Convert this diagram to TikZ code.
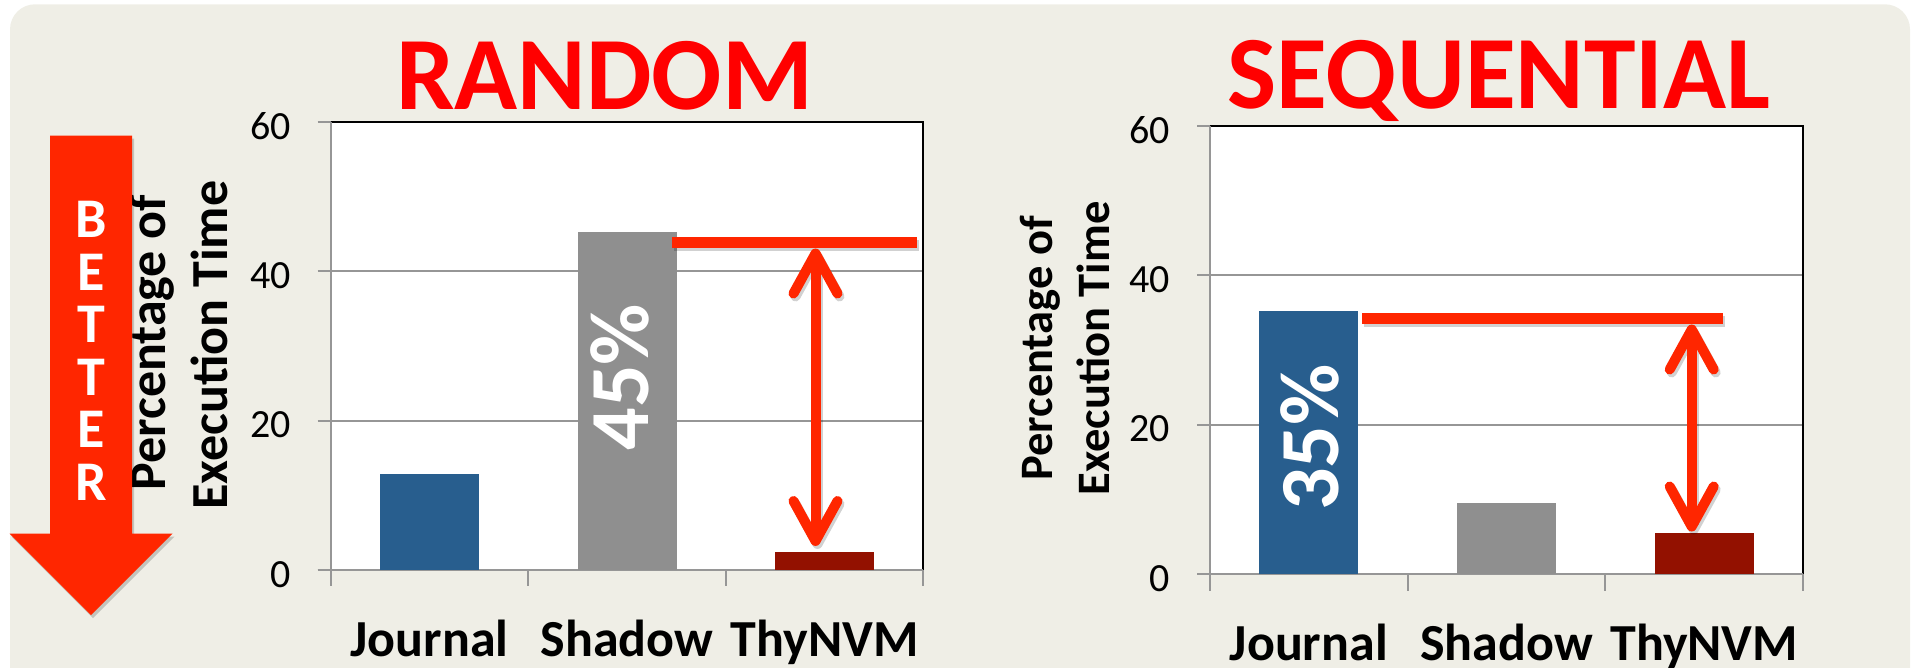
\documentclass[tikz,border=0pt]{standalone}
\usepackage{fontspec}
\setmainfont{Carlito}
\usetikzlibrary{arrows.meta}
\definecolor{panel}{RGB}{239,238,230}
\definecolor{hot}{RGB}{255,38,0}
\definecolor{titlered}{RGB}{255,0,0}
\definecolor{jblue}{RGB}{40,94,142}
\definecolor{sgray}{RGB}{143,143,143}
\definecolor{tred}{RGB}{147,17,0}
\definecolor{axisgray}{RGB}{150,150,150}
\tikzset{
  gridline/.style={draw=axisgray, line width=2pt},
  axisline/.style={draw=axisgray, line width=2pt},
  frameline/.style={draw=black, line width=2pt},
  barbox/.style={rectangle, inner sep=0pt, outer sep=0pt, minimum width=98.8pt, anchor=south},
  ticklab/.style={font=\fontsize{40}{48}\selectfont, anchor=base east, inner sep=0pt},
  catlab/.style={font=\fontsize{52}{62}\selectfont\bfseries, anchor=base, inner sep=0pt},
  ylabA/.style={font=\fontsize{52}{62}\selectfont\bfseries, anchor=base, rotate=90, inner sep=0pt},
  ylabB/.style={font=\fontsize{46.5}{56}\selectfont\bfseries, anchor=base, rotate=90, inner sep=0pt},
  charttitle/.style={font=\fontsize{104}{120}\selectfont\bfseries, text=titlered, anchor=base, inner sep=0pt},
  pctlab/.style={font=\fontsize{84}{96}\selectfont\bfseries, text=white, rotate=90, inner sep=0pt},
  betterlab/.style={font=\fontsize{56}{60}\selectfont\bfseries, text=white, anchor=base, inner sep=0pt},
  capline/.style={draw=hot, line width=11pt},
  gaparrow/.style={draw=hot, line width=10pt, >={Straight Barb[length=40pt,width=44pt,round]}, <->},
  softshadow/.style={draw=black, opacity=.18, transform canvas={xshift=2pt,yshift=-3pt}},
}
\begin{document}
\begin{tikzpicture}[x=1pt,y=-1pt]
\useasboundingbox (0,0) rectangle (1915,668);
% panel
\fill[panel, rounded corners=25pt] (10,4.3) rectangle (1910,720);

% ---------- left chart: RANDOM ----------
\node[charttitle] (tR) at (604.5,109.5) {RANDOM};
\begin{scope}[shift={(330.7,570)}]
  \fill[white] (0,0) rectangle (592.7,-448.2);
  \foreach \v in {20,40} \draw[gridline] (0,-\v*7.47) -- (592.7,-\v*7.47);
  \foreach \v in {0,20,40,60} \draw[axisline] (-13,-\v*7.47) -- (0,-\v*7.47);
  \foreach \c in {197.6,395.1,592.7} \draw[axisline] (\c,0) -- (\c,16);
  \draw[frameline] (0,-448.2) -- (592.7,-448.2) -- (592.7,0);
  \draw[axisline] (0,-448.2) -- (0,16);
  \draw[axisline] (-13,0) -- (592.7,0);
  \node[barbox, fill=jblue, minimum height=95.7pt] (Lj) at (98.8,0) {};
  \node[barbox, fill=sgray, minimum height=337.9pt] (Ls) at (296.4,0) {};
  \node[barbox, fill=tred, minimum height=18pt] (Lt) at (494.0,0) {};
  \foreach \v in {0,20,40,60} \node[ticklab] (Ly\v) at (-39.7,-\v*7.47+17.3) {\v};
  \node[catlab] (Lcj) at (98.8,86.7) {Journal};
  \node[catlab] (Lcs) at (296.4,86.7) {Shadow};
  \node[catlab] (Lct) at (494.0,86.7) {ThyNVM};
\end{scope}
\node[pctlab] (Lp) at (620,377) {45\%};
\node[ylabA] (LyA) at (165,342.5) {Percentage of};
\node[ylabA] (LyB) at (227,345) {Execution Time};
% gap marker
\coordinate (Lc1) at (672,243);
\coordinate (Lc2) at (917,243);
\coordinate (La) at (815.5,248.5);
\coordinate (Lb) at (815.5,546);
\draw[capline, softshadow] (Lc1) -- (Lc2);
\draw[capline] (Lc1) -- (Lc2);
\draw[gaparrow, softshadow] (La) -- (Lb);
\draw[gaparrow] (La) -- (Lb);

% ---------- right chart: SEQUENTIAL ----------
\node[charttitle] (tS) at (1499,109) {SEQUENTIAL};
\begin{scope}[shift={(1210,574)}]
  \fill[white] (0,0) rectangle (593,-448.2);
  \foreach \v in {20,40} \draw[gridline] (0,-\v*7.47) -- (593,-\v*7.47);
  \foreach \v in {0,20,40,60} \draw[axisline] (-13,-\v*7.47) -- (0,-\v*7.47);
  \foreach \c in {197.7,395.3,593} \draw[axisline] (\c,0) -- (\c,16.5);
  \draw[frameline] (0,-448.2) -- (593,-448.2) -- (593,0);
  \draw[axisline] (0,-448.2) -- (0,16.5);
  \draw[axisline] (-13,0) -- (593,0);
  \node[barbox, fill=jblue, minimum height=262.8pt] (Rj) at (98.8,0) {};
  \node[barbox, fill=sgray, minimum height=71.3pt] (Rs) at (296.5,0) {};
  \node[barbox, fill=tred, minimum height=41pt] (Rt) at (494.2,0) {};
  \foreach \v in {0,20,40,60} \node[ticklab] (Ry\v) at (-40,-\v*7.47+17.3) {\v};
  \node[catlab] (Rcj) at (98.8,86) {Journal};
  \node[catlab] (Rcs) at (296.5,86) {Shadow};
  \node[catlab] (Rct) at (494.2,86) {ThyNVM};
\end{scope}
\node[pctlab] (Rp) at (1310,437.7) {35\%};
\node[ylabB] (RyA) at (1052,348.4) {Percentage of};
\node[ylabB] (RyB) at (1109,348.4) {Execution Time};
\coordinate (Rc1) at (1362,319);
\coordinate (Rc2) at (1723,319);
\coordinate (Ra) at (1691.7,324.5);
\coordinate (Rb) at (1691.7,531.5);
\draw[capline, softshadow] (Rc1) -- (Rc2);
\draw[capline] (Rc1) -- (Rc2);
\draw[gaparrow, softshadow] (Ra) -- (Rb);
\draw[gaparrow] (Ra) -- (Rb);

% ---------- BETTER arrow ----------
\fill[black, opacity=.18, transform canvas={xshift=2pt,yshift=-3pt}]
  (50,135.7) -- (132,135.7) -- (132,533.7) -- (172.5,533.7) -- (91,615) -- (9.5,533.7) -- (50,533.7) -- cycle;
\fill[hot] (50,135.7) -- (132,135.7) -- (132,533.7) -- (172.5,533.7) -- (91,615) -- (9.5,533.7) -- (50,533.7) -- cycle;
\foreach \ch [count=\i from 0] in {B,E,T,T,E,R}
  \node[betterlab] (bt\i) at (91,237.7+\i*52.5) {\ch};
\end{tikzpicture}
\end{document}
